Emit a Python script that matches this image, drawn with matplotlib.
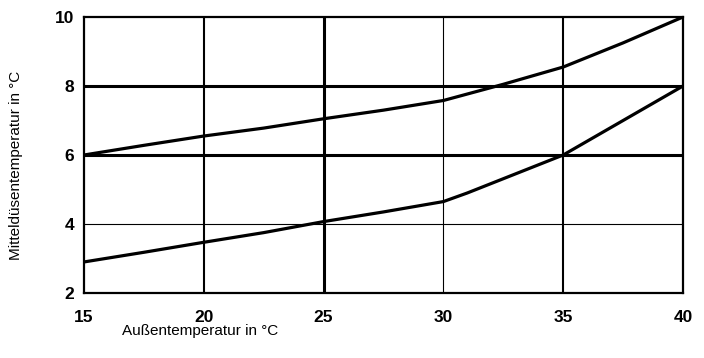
import matplotlib
matplotlib.use("Agg")
import matplotlib.pyplot as plt

# Außentemperatur (x) vs Mitteldüsentemperatur (y), two curves
x_upper = [15, 17.5, 20, 22.5, 25, 27.5, 30, 32.5, 35, 37.5, 40]
y_upper = [6.0, 6.28, 6.55, 6.78, 7.05, 7.3, 7.58, 8.05, 8.55, 9.25, 10.0]
x_lower = [15, 17.5, 20, 22.5, 25, 27.5, 30, 31, 33, 35, 37.5, 40]
y_lower = [2.9, 3.18, 3.47, 3.75, 4.07, 4.35, 4.65, 4.9, 5.45, 6.0, 7.0, 8.0]

x_ticks = [15, 20, 25, 30, 35, 40]
y_ticks = [2, 4, 6, 8, 10]

plt.rcParams["font.family"] = ["Liberation Sans", "DejaVu Sans"]

fig = plt.figure(figsize=(7.04, 3.58), dpi=100)
ax = fig.add_axes([84 / 704, 65 / 358, 599 / 704, 276 / 358])

# grid lines of varying weight, as in the scanned original
for xv, lw in [(20, 1.5), (25, 2.2), (30, 0.8), (35, 1.5)]:
    ax.axvline(xv, color="black", lw=lw, zorder=1)
for yv, lw in [(4, 0.8), (6, 2.2), (8, 2.2)]:
    ax.axhline(yv, color="black", lw=lw, zorder=1)

ax.plot(x_upper, y_upper, color="black", lw=2.3, zorder=3)
ax.plot(x_lower, y_lower, color="black", lw=2.3, zorder=3)

ax.set_xlim(15, 40)
ax.set_ylim(2, 10)
ax.set_xticks(x_ticks)
ax.set_yticks(y_ticks)
ax.tick_params(length=0)
ax.tick_params(axis="x", pad=12, labelsize=12.5)
ax.tick_params(axis="y", pad=7, labelsize=12.5)
for lab in ax.get_xticklabels() + ax.get_yticklabels():
    lab.set_fontweight("bold")
for s in ax.spines.values():
    s.set_linewidth(1.6)

fig.text(200 / 704, 1 - 331 / 358, "Außentemperatur in °C", ha="center", va="center", fontsize=11)
fig.text(16 / 704, 1 - 165 / 358, "Mitteldüsentemperatur in °C", ha="center", va="center",
         rotation=90, fontsize=11)

fig.savefig("out.png", dpi=100)
